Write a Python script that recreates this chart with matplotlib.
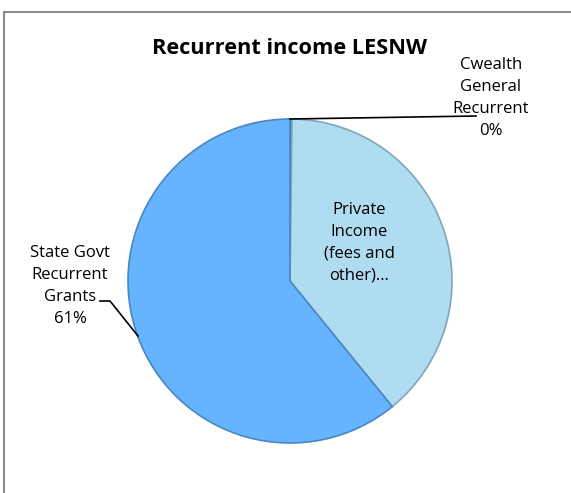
import matplotlib.pyplot as plt
from matplotlib.lines import Line2D

# data
labels = ["Cwealth\nGeneral\nRecurrent\n0%", "Private\nIncome\n(fees and\nother)\u2026", "State Govt\nRecurrent\nGrants\n61%"]
values = [0.2, 39, 61]
colors = ["#5B9BD5", "#B0DCF2", "#66B3FF"]
edges = ["#1F5F8B", "#7FA6BA", "#4A86C0"]
title = "Recurrent income LESNW"

W, H = 571, 493
plt.rcParams['font.family'] = ['Open Sans', 'DejaVu Sans']

fig = plt.figure(figsize=(W / 100, H / 100), dpi=100)
ax = fig.add_axes([0, 0, 1, 1])

def py(y):
    return H - y

cx, cy, r = 290, py(281), 162
wedges, _ = ax.pie(values, colors=colors, startangle=90, counterclock=False,
                   center=(cx, cy), radius=r, frame=True,
                   wedgeprops=dict(linewidth=1.2))
for w, ec in zip(wedges, edges):
    w.set_edgecolor(ec)
ax.set_xlim(0, W)
ax.set_ylim(0, H)
ax.set_aspect('equal')
ax.axis('off')

# chart border (left and top)
ax.add_line(Line2D([3.5, 3.5], [py(11.5), 0], color="#8c8c8c", lw=1.5))
ax.add_line(Line2D([3.5, W], [py(11.5), py(11.5)], color="#8c8c8c", lw=1.5))

ax.text(289, py(48), title, ha='center', va='center', fontsize=15.7, fontweight='bold')

# data labels
fs = 12
ls = 1.5
ax.text(491, py(98), labels[0], ha='center', va='center', fontsize=fs, linespacing=ls)
ax.add_line(Line2D([cx, 476], [py(119), py(116)], color='black', lw=1.2))

ax.text(359, py(243), labels[1], ha='center', va='center', fontsize=fs, linespacing=ls)

ax.text(70, py(286), labels[2], ha='center', va='center', fontsize=fs, linespacing=ls)
ax.add_line(Line2D([100, 110, 138], [py(301), py(301), py(336)], color='black', lw=1.2))

fig.savefig("out.png", dpi=100)
